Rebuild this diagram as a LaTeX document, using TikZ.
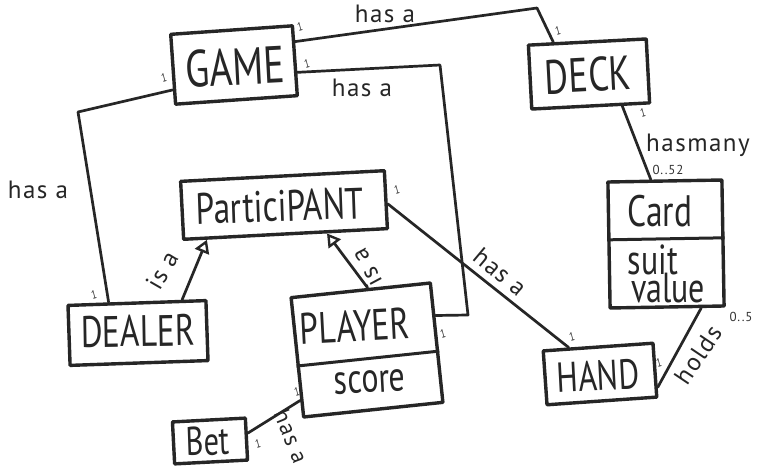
\documentclass[tikz,border=0pt]{standalone}
\usepackage{fontspec}
\setmainfont{PT Sans}
\newfontfamily\hand[FakeStretch=0.76]{PT Sans}
\newfontfamily\lab[LetterSpace=6]{PT Sans}
\usetikzlibrary{arrows.meta,calc}
\begin{document}
\begin{tikzpicture}[x=1pt,y=-1pt,
  box/.style={draw=black!85,line width=3.4pt,line join=round,inner sep=0pt,rectangle},
  txt/.style={inner sep=0pt,font=\hand\fontsize{#1}{#1}\selectfont,text=black!85},
  lbl/.style={inner sep=0pt,font=\lab\fontsize{25}{25}\selectfont,text=black!85},
  small/.style={inner sep=0pt,font=\lab\fontsize{13}{13}\selectfont,text=black!80},
  one/.style={inner sep=0pt,font=\hand\fontsize{12}{12}\selectfont,text=black!80,rotate=15},
  conn/.style={draw=black!85,line width=2.7pt,line join=round,line cap=round},
  isa/.style={conn,-{Triangle[open,length=13pt,width=15pt,line width=2.4pt]}}]
\useasboundingbox[fill=white] (0,0) rectangle (763,473);

% boxes
\node[box,minimum width=122pt,minimum height=70pt,rotate=4] (game) at (234,65) {};
\node[txt=52,rotate=3] (gamet) at (235,67) {GAME};
\node[box,minimum width=118pt,minimum height=64pt,rotate=3] (deck) at (589,74) {};
\node[txt=48,rotate=3] (deckt) at (588,75) {DECK};
\node[box,minimum width=204pt,minimum height=58pt,rotate=3] (part) at (284,205) {};
\node[txt=44,rotate=2] (partt) at (280,206) {ParticiPANT};
\node[box,minimum width=138pt,minimum height=60pt,rotate=2] (dealer) at (138,333) {};
\node[txt=44,rotate=1] (dealert) at (138,331) {DEALER};
\node[box,minimum width=140pt,minimum height=120pt,rotate=6] (player) at (367,350) {};
\node[txt=44,rotate=3] (playert) at (355,326) {PLAYER};
\node[txt=42,rotate=3] (score) at (370,382) {score};
\draw[draw=black!85,line width=3pt] ($(player.north west)!0.57!(player.south west)$) -- ($(player.north east)!0.57!(player.south east)$);
\node[box,minimum width=114pt,minimum height=126pt,rotate=1] (card) at (666,244) {};
\node[txt=44] (cardt) at (660,211) {Card};
\node[txt=42] (suit) at (653,260) {suit};
\node[txt=42] (value) at (668,288) {value};
\draw[draw=black!85,line width=3pt] ($(card.north west)!0.46!(card.south west)$) -- ($(card.north east)!0.46!(card.south east)$);
\node[box,minimum width=110pt,minimum height=54pt,rotate=4] (hand) at (600,374) {};
\node[txt=42,rotate=3] (handt) at (598,376) {HAND};
\node[box,minimum width=73pt,minimum height=42pt,rotate=3] (bet) at (210,441) {};
\node[txt=40,rotate=2] (bett) at (208,441) {Bet};

% corner coordinates
\coordinate (c1) at (537,8);
\coordinate (c2) at (440,65);
\coordinate (c3) at (468,315);
\coordinate (c4) at (78,112);

% connectors
\draw[conn] ($(game.north east)!0.24!(game.south east)$) -- (c1) -- ($(deck.north west)!0.22!(deck.north east)$);
\draw[conn] ($(game.north east)!0.66!(game.south east)$) -- (c2) -- (c3) -- ($(player.north east)!0.28!(player.south east)$);
\draw[conn] ($(game.north west)!0.78!(game.south west)$) -- (c4) -- ($(dealer.north west)!0.3!(dealer.north east)$);
\draw[isa] ($(dealer.north west)!0.82!(dealer.north east)$) -- ($(part.south west)!0.12!(part.south east)$);
\draw[isa] ($(player.north west)!0.55!(player.north east)$) -- ($(part.south west)!0.7!(part.south east)$);
\draw[conn] ($(part.north east)!0.57!(part.south east)$) -- ($(hand.north west)!0.24!(hand.north east)$);
\draw[conn] ($(deck.south west)!0.76!(deck.south east)$) -- ($(card.north west)!0.38!(card.north east)$);
\draw[conn] ($(card.south west)!0.79!(card.south east)$) -- ($(hand.north east)!0.8!(hand.south east)$);
\draw[conn] ($(player.north west)!0.85!(player.south west)$) -- ($(bet.north east)!0.37!(bet.south east)$);

% labels
\node[lbl] (l1) at (385,14) {has a};
\node[lbl] (l2) at (362,88) {has a};
\node[lbl] (l3) at (38,190) {has a};
\node[lbl,rotate=-40] (l4) at (500,272) {has a};
\node[lbl,font=\lab\fontsize{23}{23}\selectfont,rotate=-68] (l5) at (291,436) {has a};
\node[lbl,rotate=60] (l6) at (162,270) {is a};
\node[lbl,rotate=118] (l7) at (366,268) {is a};
\node[lbl] (l8) at (698,145) {hasmany};
\node[small] (l9) at (668,170) {0..52};
\node[lbl,rotate=56] (l10) at (698,355) {holds};
\node[small] (l11) at (741,317) {0..5};

% multiplicity ones
\node[one] (o1) at (300,27) {1};
\node[one] (o2) at (307,64) {1};
\node[one] (o3) at (558,31) {1};
\node[one] (o4) at (164,78) {1};
\node[one] (o5) at (94,295) {1};
\node[one] (o6) at (397,190) {1};
\node[one] (o7) at (572,337) {1};
\node[one] (o8) at (443,334) {1};
\node[one] (o9) at (643,113) {1};
\node[one] (o10) at (659,363) {1};
\node[one] (o11) at (297,392) {1};
\node[one] (o12) at (258,444) {1};
\end{tikzpicture}
\end{document}
